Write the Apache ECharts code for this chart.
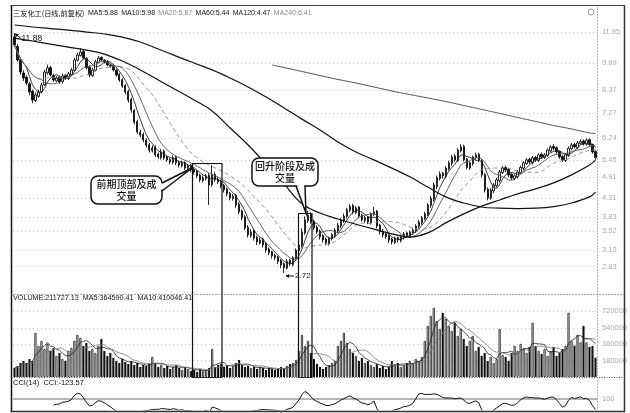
<!DOCTYPE html>
<html><head><meta charset="utf-8">
<script src="https://cdn.jsdelivr.net/npm/echarts@6/dist/echarts.min.js"></script>
<style>html,body{margin:0;padding:0;background:#fff}#c{width:630px;height:413px}</style>
</head><body><div id="c"></div>
<script>
// ---- data ----
const opens = [11.60,10.95,10.10,9.30,9.05,8.70,8.30,7.85,8.05,8.30,
8.65,9.30,9.60,9.15,8.85,9.05,8.80,9.15,8.98,9.20,
9.45,10.05,10.35,10.60,10.15,9.62,9.15,9.45,9.92,10.22,
10.05,9.98,9.74,9.72,9.45,9.20,8.92,8.60,8.30,7.90,
7.38,6.90,6.45,6.38,6.15,5.98,5.76,5.88,5.65,5.52,
5.74,5.55,5.46,5.36,5.54,5.37,5.26,5.36,5.16,5.27,
5.14,5.08,4.96,4.80,4.86,4.96,4.68,4.98,4.84,4.78,
4.66,4.55,4.44,4.30,4.38,4.15,3.98,3.84,3.60,3.42,
3.52,3.38,3.27,3.35,3.25,3.15,3.10,3.03,3.00,2.94,
2.88,2.80,2.94,2.86,2.98,3.12,3.22,3.48,3.75,3.90,
3.74,3.60,3.52,3.42,3.35,3.25,3.36,3.42,3.52,3.63,
3.75,3.85,4.00,4.12,3.94,4.08,3.88,3.75,3.84,3.70,
3.90,3.98,3.65,3.52,3.46,3.42,3.35,3.28,3.38,3.32,
3.38,3.48,3.40,3.48,3.52,3.62,3.70,3.80,3.90,4.12,
4.28,4.62,4.86,5.02,4.92,5.16,5.33,5.58,5.42,5.76,
5.92,5.48,5.18,5.32,5.52,5.64,5.42,4.98,4.55,4.30,
4.50,4.65,4.80,5.04,5.20,5.14,4.99,4.86,4.92,5.04,
5.18,5.33,5.47,5.36,5.54,5.43,5.64,5.53,5.60,5.76,
5.92,5.87,5.74,5.57,5.43,5.60,5.83,5.99,5.88,6.03,
6.12,6.00,6.17,5.99,5.74];
const closes = [11.04,10.07,9.35,9.01,8.74,8.27,7.87,8.12,8.27,8.63,
9.35,9.59,9.18,8.90,9.01,8.79,9.12,9.01,9.24,9.47,
10.07,10.38,10.57,10.19,9.59,9.18,9.47,9.95,10.19,10.07,
9.95,9.76,9.70,9.47,9.18,8.90,8.58,8.27,7.87,7.40,
6.87,6.47,6.35,6.16,5.97,5.79,5.86,5.62,5.55,5.72,
5.52,5.45,5.38,5.52,5.35,5.28,5.35,5.18,5.25,5.12,
5.06,4.94,4.82,4.88,4.94,4.67,4.97,4.82,4.76,4.64,
4.53,4.42,4.31,4.36,4.13,3.96,3.82,3.59,3.44,3.50,
3.37,3.29,3.33,3.23,3.13,3.08,3.02,2.99,2.92,2.86,
2.81,2.92,2.88,2.99,3.13,3.23,3.50,3.77,3.88,3.72,
3.59,3.50,3.40,3.33,3.27,3.37,3.44,3.54,3.65,3.77,
3.86,4.01,4.10,3.96,4.06,3.86,3.77,3.82,3.72,3.91,
3.96,3.63,3.50,3.44,3.40,3.33,3.29,3.37,3.33,3.40,
3.46,3.42,3.50,3.54,3.63,3.72,3.82,3.91,4.13,4.30,
4.67,4.88,5.00,4.94,5.18,5.35,5.55,5.45,5.79,5.90,
5.45,5.20,5.35,5.55,5.62,5.45,4.97,4.53,4.31,4.53,
4.67,4.82,5.06,5.18,5.12,4.97,4.88,4.94,5.06,5.20,
5.35,5.45,5.38,5.52,5.45,5.62,5.55,5.62,5.79,5.90,
5.85,5.72,5.55,5.45,5.62,5.85,5.97,5.90,6.05,6.10,
6.02,6.15,5.98,5.72,5.53];
const highs = [11.88,11.10,10.20,9.45,9.15,8.80,8.40,8.25,8.40,8.75,
9.48,9.78,9.70,9.25,9.12,9.15,9.25,9.22,9.35,9.58,
10.20,10.52,10.80,10.72,10.25,9.75,9.60,10.08,10.32,10.30,
10.12,10.05,9.85,9.80,9.55,9.30,9.00,8.68,8.38,7.98,
7.45,6.98,6.55,6.45,6.22,6.05,5.95,5.95,5.70,5.82,
5.80,5.58,5.52,5.60,5.58,5.42,5.42,5.40,5.30,5.32,
5.18,5.12,5.00,4.95,5.00,5.02,5.28,5.05,4.90,4.82,
4.70,4.60,4.48,4.42,4.42,4.20,4.02,3.88,3.65,3.56,
3.56,3.42,3.38,3.38,3.28,3.18,3.12,3.06,3.02,2.96,
2.90,2.96,2.97,3.02,3.16,3.28,3.58,3.85,3.98,3.95,
3.78,3.65,3.55,3.45,3.38,3.40,3.48,3.58,3.70,3.82,
3.92,4.06,4.15,4.16,4.10,4.10,3.92,3.86,3.86,3.95,
4.08,4.00,3.68,3.56,3.48,3.45,3.38,3.40,3.40,3.44,
3.50,3.51,3.53,3.58,3.67,3.77,3.86,3.96,4.18,4.36,
4.74,4.95,5.08,5.06,5.24,5.42,5.62,5.65,5.85,6.00,
5.98,5.52,5.40,5.60,5.70,5.70,5.48,5.02,4.60,4.58,
4.72,4.88,5.12,5.24,5.26,5.18,5.03,4.99,5.12,5.26,
5.40,5.50,5.52,5.58,5.58,5.68,5.70,5.68,5.85,5.96,
6.00,5.92,5.76,5.60,5.68,5.92,6.04,6.05,6.12,6.18,
6.18,6.22,6.22,6.02,5.78];
const lows = [10.90,9.95,9.20,8.85,8.62,8.10,7.72,7.78,7.98,8.22,
8.58,9.20,9.10,8.80,8.78,8.70,8.72,8.92,8.90,9.12,
9.38,9.98,10.28,10.10,9.50,9.05,9.08,9.38,9.85,9.98,
9.85,9.68,9.60,9.38,9.08,8.80,8.48,8.15,7.75,7.28,
6.78,6.38,6.26,6.08,5.88,5.70,5.70,5.55,5.48,5.46,
5.44,5.38,5.30,5.30,5.28,5.20,5.20,5.12,5.10,5.05,
4.98,4.88,4.75,4.74,4.80,4.13,4.62,4.76,4.70,4.58,
4.46,4.35,4.25,4.24,4.06,3.90,3.76,3.54,3.38,3.38,
3.32,3.23,3.24,3.18,3.08,3.03,2.97,2.94,2.87,2.80,
2.72,2.78,2.84,2.83,2.95,3.08,3.18,3.44,3.70,3.68,
3.54,3.46,3.34,3.28,3.22,3.22,3.32,3.38,3.48,3.58,
3.70,3.80,3.95,3.90,3.90,3.82,3.72,3.70,3.67,3.66,
3.86,3.58,3.45,3.38,3.35,3.27,3.24,3.25,3.28,3.28,
3.34,3.37,3.37,3.44,3.48,3.58,3.66,3.76,3.86,4.06,
4.22,4.55,4.80,4.86,4.86,5.10,5.26,5.38,5.38,5.70,
5.40,5.14,5.12,5.26,5.46,5.38,4.90,4.46,4.25,4.26,
4.44,4.60,4.74,5.00,5.05,4.90,4.82,4.80,4.86,5.00,
5.12,5.28,5.32,5.30,5.38,5.38,5.48,5.48,5.55,5.70,
5.78,5.66,5.48,5.38,5.38,5.55,5.78,5.84,5.82,5.98,
5.95,5.95,5.92,5.66,5.45];
const volumes = [99000,121000,154000,176000,154000,198000,176000,484000,341000,396000,
308000,363000,286000,319000,231000,264000,198000,176000,286000,319000,
396000,462000,429000,341000,374000,286000,308000,264000,341000,418000,
286000,231000,264000,209000,176000,154000,198000,165000,143000,176000,
132000,154000,110000,132000,121000,143000,220000,154000,110000,132000,
99000,121000,88000,110000,132000,99000,77000,110000,88000,66000,
77000,55000,88000,66000,77000,99000,308000,110000,132000,143000,
110000,132000,99000,121000,154000,187000,132000,110000,121000,99000,
110000,88000,110000,99000,77000,99000,88000,77000,88000,110000,
99000,121000,143000,154000,187000,286000,462000,341000,396000,264000,
198000,143000,110000,88000,110000,132000,154000,176000,341000,396000,
484000,374000,308000,264000,231000,176000,209000,154000,176000,132000,
110000,143000,99000,121000,88000,110000,176000,143000,154000,110000,
132000,154000,176000,154000,198000,176000,220000,396000,561000,671000,
759000,616000,528000,704000,638000,561000,506000,594000,451000,528000,
418000,341000,396000,451000,286000,330000,231000,264000,176000,220000,
154000,198000,528000,242000,220000,176000,264000,341000,286000,363000,
308000,264000,330000,594000,341000,286000,253000,308000,231000,286000,
330000,231000,264000,308000,341000,704000,396000,341000,462000,374000,
561000,380000,330000,340000,211727];
// long moving averages (history before the window is not shown)
const maIdx = [0,6,12,18,24,30,36,42,48,54,60,66,72,78,84,90,96,102,108,114,120,126,132,138,144,150,156,162,168,174,180,186,192,194];
const ma60Vals = [11.52,11.31,11.10,10.90,10.70,10.44,10.00,9.47,8.90,8.37,7.87,7.36,6.63,5.97,5.31,4.70,4.16,3.93,3.79,3.67,3.56,3.46,3.39,3.48,3.70,3.91,4.10,4.26,4.42,4.56,4.73,4.97,5.28,5.44];
const ma120Vals = [12.48,12.33,12.21,12.10,11.95,11.81,11.59,11.24,10.77,10.31,9.88,9.47,9.01,8.53,8.02,7.50,7.00,6.55,6.08,5.72,5.45,5.18,4.91,4.61,4.34,4.18,4.08,4.05,4.04,4.05,4.09,4.18,4.34,4.47];
const ma240Idx = [86,90,96,102,108,114,120,126,132,138,144,150,156,162,168,174,180,186,192,194];
const ma240Vals = [9.76,9.61,9.38,9.15,8.93,8.74,8.53,8.32,8.14,7.97,7.80,7.61,7.43,7.25,7.07,6.90,6.73,6.59,6.43,6.41];
const priceTicks = [11.95,9.89,8.37,7.27,6.24,5.45,4.91,4.31,3.83,3.52,3.13,2.83];
const volTicks = [180000,360000,540000,720000];
const cciTicks = [100];
const titleMain = '三友化工(日线,前复权)';
const titleMA = [['MA5:5.88','a'],['MA10:5.98','a'],['MA20:5.87','g'],['MA60:5.44','a'],['MA120:4.47','a'],['MA240:6.41','g']];
const volTitle = 'VOLUME:211727.13  MA5:364590.41  MA10:410046.41';
const cciTitle = 'CCI(14)  CCI:-123.57';
const note1 = ['前期顶部及成','交量'];
const note2 = ['回升阶段及成','交量'];

// ---- derived ----
const categories = closes.map((_, i) => String(i + 1));
function movAvg(arr, n) {
  return arr.map((_, i) => {
    const s = Math.max(0, i - n + 1); let t = 0;
    for (let k = s; k <= i; k++) t += arr[k];
    return +(t / (i - s + 1)).toFixed(3);
  });
}
function cci(n) {
  const tp = closes.map((c, i) => (highs[i] + lows[i] + c) / 3);
  return tp.map((v, i) => {
    if (i < n - 1) return null;
    let m = 0; for (let k = i - n + 1; k <= i; k++) m += tp[k]; m /= n;
    let d = 0; for (let k = i - n + 1; k <= i; k++) d += Math.abs(tp[k] - m); d /= n;
    return d === 0 ? 0 : +((v - m) / (0.015 * d)).toFixed(2);
  });
}
const kData = closes.map((c, i) => [opens[i], c, lows[i], highs[i]]);
const volData = volumes.map((v, i) => ({
  value: v,
  itemStyle: closes[i] >= opens[i] ? { color: '#fff', borderColor: '#111', borderWidth: 0.8 } : { color: '#111' }
}));
const pairs = (idx, vals) => idx.map((x, k) => [x, vals[k]]);

const gridL = 13, gridR = 33;
const lineS = (name, data, color, width, extra) => Object.assign({
  name, type: 'line', data, symbol: 'none', silent: true,
  lineStyle: { color, width }, z: 3
}, extra || {});
const axisFont = { color: '#aaa', fontSize: 7.5, margin: 5, fontFamily: 'Liberation Sans' };

const option = {
  animation: false,
  backgroundColor: '#fff',
  grid: [
    { left: gridL, right: gridR, top: 20, height: 268 },
    { left: gridL, right: gridR, top: 305, height: 72 },
    { left: gridL, right: gridR, top: 388, height: 22 }
  ],
  xAxis: [0, 1, 2].map(g => ({ type: 'category', gridIndex: g, data: categories, boundaryGap: true, show: false })),
  yAxis: [
    { type: 'log', gridIndex: 0, position: 'right', min: 2.48, max: 12.87, logBase: 10,
      axisLine: { show: false }, axisTick: { show: false, customValues: priceTicks },
      axisLabel: Object.assign({ customValues: priceTicks, formatter: v => Number(v).toFixed(2) }, axisFont),
      splitLine: { show: true, lineStyle: { color: '#c8c8c8', type: [1, 3], width: 1 } } },
    { type: 'value', gridIndex: 1, position: 'right', min: 0, max: 790000,
      axisLine: { show: false }, axisTick: { show: false, customValues: volTicks },
      axisLabel: Object.assign({ customValues: volTicks, formatter: v => String(v) }, axisFont),
      splitLine: { show: true, lineStyle: { color: '#c8c8c8', type: [1, 3], width: 1 } } },
    { type: 'value', gridIndex: 2, position: 'right', min: -100, max: 300,
      axisLine: { show: false }, axisTick: { show: false, customValues: cciTicks },
      axisLabel: Object.assign({ customValues: cciTicks, formatter: v => String(v) }, axisFont),
      splitLine: { show: true, lineStyle: { color: '#b5b5b5', width: 2 } } }
  ],
  series: [
    { name: 'K', type: 'candlestick', xAxisIndex: 0, yAxisIndex: 0, data: kData, barWidth: '62%', silent: true,
      itemStyle: { color: '#fff', color0: '#111', borderColor: '#111', borderColor0: '#111', borderWidth: 0.9 }, z: 2 },
    lineS('MA5', movAvg(closes, 5), '#222', 0.9),
    lineS('MA10', movAvg(closes, 10), '#555', 0.9),
    lineS('MA20', movAvg(closes, 20), '#888', 0.9, { lineStyle: { color: '#888', width: 0.9, type: [4, 3] } }),
    lineS('MA60', pairs(maIdx, ma60Vals), '#111', 1.2, { smooth: 0.4 }),
    lineS('MA120', pairs(maIdx, ma120Vals), '#111', 1.2, { smooth: 0.4 }),
    lineS('MA240', pairs(ma240Idx, ma240Vals), '#555', 1, { smooth: 0.4 }),
    { name: 'VOL', type: 'bar', xAxisIndex: 1, yAxisIndex: 1, data: volData, barWidth: '70%', silent: true },
    lineS('VMA5', movAvg(volumes, 5), '#222', 0.8, { xAxisIndex: 1, yAxisIndex: 1 }),
    lineS('VMA10', movAvg(volumes, 10), '#777', 0.8, { xAxisIndex: 1, yAxisIndex: 1 }),
    lineS('CCI', cci(14), '#111', 1, { xAxisIndex: 2, yAxisIndex: 2 })
  ]
};

const chart = echarts.init(document.getElementById('c'), null, { renderer: 'canvas' });
chart.setOption(option);

// ---- annotations ----
let hiI = 0, loI = 0;
highs.forEach((v, i) => { if (v > highs[hiI]) hiI = i; });
lows.forEach((v, i) => { if (v < lows[loI]) loI = i; });
const pHi = chart.convertToPixel({ gridIndex: 0 }, [hiI, highs[hiI]]);
const pLo = chart.convertToPixel({ gridIndex: 0 }, [loI, lows[loI]]);

const dark = '#111';
const fontL = 'Liberation Sans, Arial, sans-serif';
const fontC = '"Noto Sans CJK SC", sans-serif';
const els = [];
const L = (x1, y1, x2, y2, stroke, w, dash, z) => els.push({ type: 'line', silent: true, z: z || 60,
  shape: { x1, y1, x2, y2 }, style: { stroke, lineWidth: w, lineDash: dash || null } });
const T = (x, y, text, font, fill, align) => els.push({ type: 'text', silent: true, z: 70, x, y,
  style: { text, font, fill, align: align || 'left', verticalAlign: 'middle' } });

// frame
L(11.5, 5, 11.5, 411.5, dark, 1.5);
L(10.5, 5.5, 625, 5.5, '#444', 1);
L(624.5, 5.5, 624.5, 411.5, '#333', 1.5);
L(10.5, 411.5, 625, 411.5, '#333', 1.5);
L(597.5, 5.5, 597.5, 411.5, '#666', 1, [1, 2]);
L(11.5, 294.5, 624.5, 294.5, '#555', 1, [1, 2]);
L(11.5, 377.5, 624.5, 377.5, '#555', 1.2, [1, 1.5]);
els.push({ type: 'circle', silent: true, z: 60, shape: { cx: 591, cy: 12, r: 3 }, style: { fill: 'none', stroke: '#999', lineWidth: 1 } });

// title line (flowing rich text)
const titleText = '{t|' + titleMain + '} ' + titleMA.map(m => '{' + m[1] + '|' + m[0] + '}').join(' ');
els.push({ type: 'text', silent: true, z: 70, x: 13, y: 13, style: {
  text: titleText, verticalAlign: 'middle', align: 'left',
  rich: {
    t: { font: '7.2px ' + fontC, fill: dark },
    a: { font: '7px ' + fontL, fill: dark },
    g: { font: '7px ' + fontL, fill: '#888' }
  } } });
T(13, 298, volTitle, '7.2px ' + fontL, dark);
T(13, 383, cciTitle, '7.5px ' + fontL, dark);

// high / low markers
L(pHi[0] + 6, pHi[1] + 5, pHi[0] + 1, pHi[1] + 1, dark, 1);
els.push({ type: 'polygon', silent: true, z: 60, shape: { points: [[pHi[0] + 0.5, pHi[1] + 0.5], [pHi[0] + 4.5, pHi[1] + 1.2], [pHi[0] + 1.2, pHi[1] + 4.5]] }, style: { fill: dark } });
T(pHi[0] + 7, pHi[1] + 6, highs[hiI].toFixed(2), '8.5px ' + fontL, dark);
L(pLo[0] + 10, pLo[1] + 3, pLo[0] + 2, pLo[1] + 3, dark, 1);
els.push({ type: 'polygon', silent: true, z: 60, shape: { points: [[pLo[0] + 1.5, pLo[1] + 3], [pLo[0] + 5, pLo[1] + 1], [pLo[0] + 5, pLo[1] + 5]] }, style: { fill: dark } });
T(pLo[0] + 11, pLo[1] + 3, lows[loI].toFixed(2), '8px ' + fontL, dark);

// tall boxes
els.push({ type: 'rect', silent: true, z: 55, shape: { x: 192.5, y: 163.5, width: 29.5, height: 214 }, style: { fill: 'none', stroke: dark, lineWidth: 1.2 } });
els.push({ type: 'rect', silent: true, z: 55, shape: { x: 298.5, y: 213.5, width: 13.5, height: 164 }, style: { fill: 'none', stroke: dark, lineWidth: 1.2 } });

// callout 1
els.push({ type: 'rect', silent: true, z: 80, shape: { x: 91, y: 176, width: 71, height: 28, r: 7 }, style: { fill: '#fff', stroke: dark, lineWidth: 1.5 } });
els.push({ type: 'polygon', silent: true, z: 81, shape: { points: [[160.5, 183.8], [192, 168], [160.5, 190.2]] }, style: { fill: '#fff' } });
els.push({ type: 'polyline', silent: true, z: 82, shape: { points: [[162, 183], [192, 168], [162, 191]] }, style: { stroke: dark, lineWidth: 1.5, fill: null } });
els.push({ type: 'text', silent: true, z: 83, x: 126.5, y: 184, style: { text: note1[0], font: '500 10px ' + fontC, fill: dark, align: 'center', verticalAlign: 'middle' } });
els.push({ type: 'text', silent: true, z: 83, x: 126.5, y: 196, style: { text: note1[1], font: '500 10px ' + fontC, fill: dark, align: 'center', verticalAlign: 'middle' } });
// callout 2
els.push({ type: 'rect', silent: true, z: 80, shape: { x: 252, y: 158, width: 66, height: 28, r: 7 }, style: { fill: '#fff', stroke: dark, lineWidth: 1.5 } });
els.push({ type: 'polygon', silent: true, z: 81, shape: { points: [[296.8, 184.5], [306, 213], [304.2, 184.5]] }, style: { fill: '#fff' } });
els.push({ type: 'polyline', silent: true, z: 82, shape: { points: [[296, 186], [306, 213], [305, 186]] }, style: { stroke: dark, lineWidth: 1.5, fill: null } });
els.push({ type: 'text', silent: true, z: 83, x: 285, y: 166.5, style: { text: note2[0], font: '500 10px ' + fontC, fill: dark, align: 'center', verticalAlign: 'middle' } });
els.push({ type: 'text', silent: true, z: 83, x: 285, y: 178, style: { text: note2[1], font: '500 10px ' + fontC, fill: dark, align: 'center', verticalAlign: 'middle' } });

chart.setOption({ graphic: { elements: els } });
</script></body></html>
